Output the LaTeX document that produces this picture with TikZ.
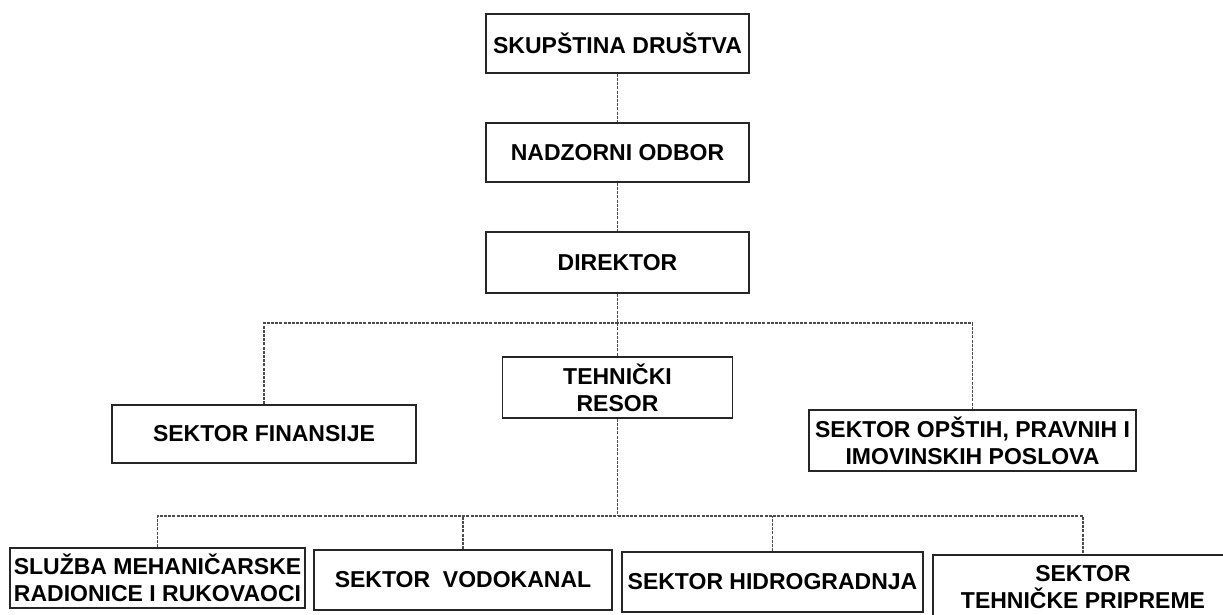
\documentclass[tikz,border=0pt]{standalone}
\usepackage{fontspec}
\setmainfont{Liberation Sans}
\begin{document}
\begin{tikzpicture}[x=1pt,y=-1pt,
  box/.style={draw=black!85,line width=1.5pt,inner sep=0pt,align=center,
    font=\fontsize{23}{27}\selectfont\bfseries},
  conn/.style={draw=black!70,line width=1.3pt,dash pattern=on 3pt off 1.2pt}]
\useasboundingbox (0,0) rectangle (1223,614);
\clip (0,0) rectangle (1223,614);
\node[box,minimum width=263pt,minimum height=59pt] (skup) at (617.5,43.5) {SKUPŠTINA DRUŠTVA};
\node[box,minimum width=263pt,minimum height=59pt] (nadz) at (617.5,152.5) {NADZORNI ODBOR};
\node[box,minimum width=263pt,minimum height=61pt] (dir) at (617.5,262.5) {DIREKTOR};
\node[box,minimum width=304pt,minimum height=58pt] (fin) at (264,434) {SEKTOR FINANSIJE};
\node[box,minimum width=230pt,minimum height=61pt] (teh) at (617.5,387.5) {TEHNIČKI\\RESOR};
\node[box,minimum width=327pt,minimum height=61pt] (ops) at (972.5,440.5) {SEKTOR OPŠTIH, PRAVNIH I\\IMOVINSKIH POSLOVA};
\node[box,minimum width=295pt,minimum height=60pt] (b1) at (157.5,578) {SLUŽBA MEHANIČARSKE\\RADIONICE I RUKOVAOCI};
\node[box,minimum width=298pt,minimum height=60pt] (b2) at (463,580) {SEKTOR\ \ VODOKANAL};
\node[box,minimum width=301pt,minimum height=60pt] (b3) at (772.5,582) {SEKTOR HIDROGRADNJA};
\node[box,minimum width=300pt,minimum height=64pt] (b4) at (1083,587) {SEKTOR\\TEHNIČKE PRIPREME};
\coordinate (bus1) at (617.5,323);
\coordinate (bus2) at (617.5,516);
\draw[conn] (skup.south) -- (nadz.north);
\draw[conn] (nadz.south) -- (dir.north);
\draw[conn] (dir.south) -- (teh.north);
\draw[conn] (fin.north) |- (bus1) -| (ops.north);
\draw[conn] (teh.south) -- (bus2);
\draw[conn] (b1.north) |- (bus2) -| (b4.north);
\draw[conn] (b2.north) -- (b2.north |- bus2);
\draw[conn] (b3.north) -- (b3.north |- bus2);
\end{tikzpicture}
\end{document}
